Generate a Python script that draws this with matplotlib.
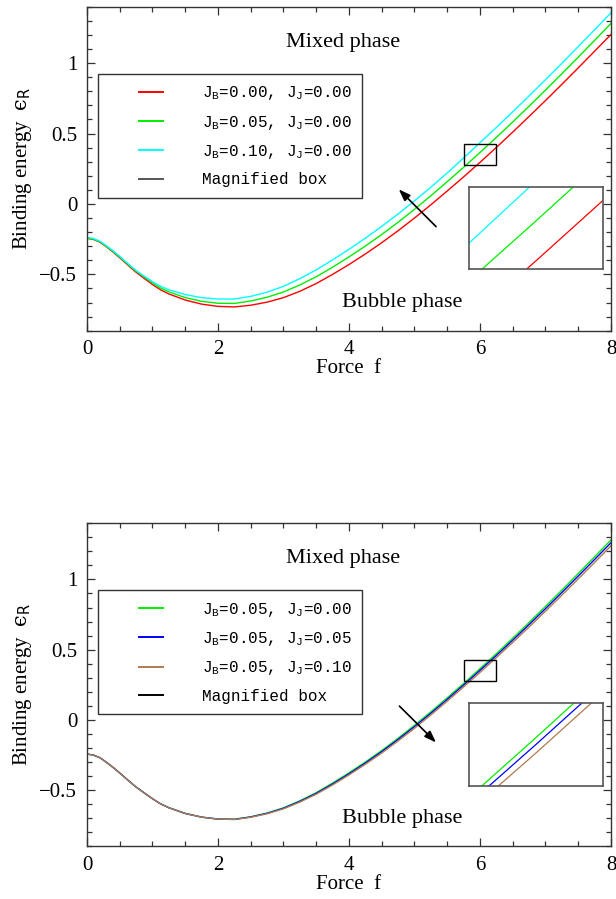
import matplotlib
matplotlib.use('Agg')
import matplotlib.pyplot as plt
from matplotlib.patches import Rectangle
from matplotlib.lines import Line2D
from matplotlib.legend_handler import HandlerLine2D
from matplotlib.ticker import MultipleLocator, FixedLocator, FixedFormatter

# ---------------- data ----------------
force = [0, 0.1, 0.2, 0.3, 0.4, 0.5, 0.625, 0.75, 0.875, 1.0, 1.125, 1.25,
         1.5, 1.75, 2.0, 2.25, 2.5, 2.75, 3.0, 3.25, 3.5, 3.75, 4.0, 4.25,
         4.5, 4.75, 5.0, 5.25, 5.5, 5.75, 6.0, 6.25, 6.5, 6.75, 7.0, 7.25,
         7.5, 7.75, 8.0]

# top panel: J_J = 0, varying J_B
eps_jb000_jj000 = [-0.244, -0.252, -0.272, -0.305, -0.342, -0.382, -0.434, -0.485,
                   -0.529, -0.572, -0.610, -0.639, -0.682, -0.711, -0.727, -0.731,
                   -0.719, -0.697, -0.665, -0.620, -0.565, -0.500, -0.430, -0.355,
                   -0.275, -0.190, -0.100, -0.006, 0.092, 0.192, 0.295, 0.401,
                   0.510, 0.621, 0.734, 0.849, 0.966, 1.084, 1.203]
eps_jb005_jj000 = [-0.242, -0.250, -0.269, -0.302, -0.338, -0.377, -0.428, -0.477,
                   -0.519, -0.560, -0.597, -0.624, -0.665, -0.691, -0.705, -0.706,
                   -0.689, -0.662, -0.625, -0.575, -0.517, -0.449, -0.376, -0.299,
                   -0.217, -0.130, -0.038, 0.058, 0.158, 0.260, 0.365, 0.472,
                   0.582, 0.694, 0.808, 0.924, 1.042, 1.161, 1.281]
eps_jb010_jj000 = [-0.237, -0.245, -0.265, -0.297, -0.333, -0.372, -0.423, -0.472,
                   -0.513, -0.552, -0.585, -0.609, -0.643, -0.665, -0.675, -0.675,
                   -0.656, -0.626, -0.585, -0.530, -0.468, -0.397, -0.322, -0.243,
                   -0.159, -0.071, 0.022, 0.119, 0.220, 0.326, 0.435, 0.543,
                   0.654, 0.767, 0.882, 0.998, 1.117, 1.236, 1.357]
# bottom panel: J_B = 0.05, varying J_J
eps_jb005_jj005 = [-0.242, -0.250, -0.269, -0.302, -0.338, -0.377, -0.428, -0.477,
                   -0.519, -0.560, -0.597, -0.624, -0.665, -0.691, -0.705, -0.707,
                   -0.690, -0.664, -0.628, -0.579, -0.522, -0.455, -0.383, -0.306,
                   -0.225, -0.138, -0.047, 0.048, 0.147, 0.249, 0.353, 0.459,
                   0.568, 0.679, 0.792, 0.907, 1.024, 1.142, 1.261]
eps_jb005_jj010 = [-0.242, -0.250, -0.269, -0.302, -0.338, -0.377, -0.428, -0.477,
                   -0.519, -0.560, -0.597, -0.624, -0.665, -0.691, -0.705, -0.708,
                   -0.692, -0.667, -0.632, -0.584, -0.528, -0.462, -0.391, -0.315,
                   -0.235, -0.149, -0.059, 0.036, 0.134, 0.235, 0.338, 0.444,
                   0.552, 0.662, 0.774, 0.888, 1.004, 1.121, 1.239]

top_labels = ['J$_\\mathregular{B}$=0.00, J$_\\mathregular{J}$=0.00',
              'J$_\\mathregular{B}$=0.05, J$_\\mathregular{J}$=0.00',
              'J$_\\mathregular{B}$=0.10, J$_\\mathregular{J}$=0.00']
bottom_labels = ['J$_\\mathregular{B}$=0.05, J$_\\mathregular{J}$=0.00',
                 'J$_\\mathregular{B}$=0.05, J$_\\mathregular{J}$=0.05',
                 'J$_\\mathregular{B}$=0.05, J$_\\mathregular{J}$=0.10']
box_label = 'Magnified box'

xticks = [0, 2, 4, 6, 8]
xticklabels = ['0', '2', '4', '6', '8']
yticks = [-0.5, 0, 0.5, 1]
yticklabels = ['\u22120.5', '0', '0.5', '1']

# magnified region
box_x = (5.75, 6.25)
box_y = (0.28, 0.425)

# ---------------- style ----------------
plt.rcParams['font.family'] = ['Liberation Serif', 'DejaVu Serif']
plt.rcParams['mathtext.fontset'] = 'custom'
plt.rcParams['mathtext.rm'] = 'DejaVu Serif'
plt.rcParams['mathtext.it'] = 'DejaVu Serif:italic'
plt.rcParams['mathtext.sf'] = 'DejaVu Sans'

fig = plt.figure(figsize=(6.16, 8.99), dpi=100)

AX_COLOR = '#333333'


def style_axes(ax):
    ax.set_xlim(0, 8)
    ax.set_ylim(-0.9, 1.4)
    ax.xaxis.set_major_locator(FixedLocator(xticks))
    ax.xaxis.set_major_formatter(FixedFormatter(xticklabels))
    ax.xaxis.set_minor_locator(MultipleLocator(0.5))
    ax.yaxis.set_major_locator(FixedLocator(yticks))
    ax.yaxis.set_major_formatter(FixedFormatter(yticklabels))
    ax.yaxis.set_minor_locator(MultipleLocator(0.1))
    ax.tick_params(which='both', direction='in', top=True, right=True,
                   color=AX_COLOR, width=0.9)
    ax.tick_params(which='major', length=5.5, labelsize=15, pad=7)
    ax.tick_params(which='minor', length=3.5)
    for s in ax.spines.values():
        s.set_color(AX_COLOR)
        s.set_linewidth(1.0)
    ax.set_xlabel('Force  f', fontsize=15, labelpad=0)
    ax.set_ylabel('Binding energy  $\\mathrm{\u03f5}_\\mathsf{R}$', fontsize=15, labelpad=4)


def panel(ax_rect, inset_rect, series, labels, colors, box_color, arrow_tail, arrow_head):
    ax = fig.add_axes(ax_rect)
    for y, c in zip(series, colors):
        ax.plot(force, y, color=c, lw=1.0)
    style_axes(ax)
    ax.add_patch(Rectangle((box_x[0], box_y[0]), box_x[1] - box_x[0], box_y[1] - box_y[0],
                           fill=False, edgecolor='black', lw=1.0, zorder=5))
    ax.annotate('', xy=arrow_head, xytext=arrow_tail,
                arrowprops=dict(arrowstyle='-|>,head_length=0.7,head_width=0.25',
                                color='black', lw=1.2, shrinkA=0, shrinkB=0))
    ax.text(3.91, 1.146, 'Mixed phase', fontsize=16, ha='center', va='center')
    ax.text(4.81, -0.703, 'Bubble phase', fontsize=16, ha='center', va='center')

    handles = [Line2D([], [], color=c, lw=1.4) for c in colors]
    handles.append(Line2D([], [], color=box_color, lw=1.4))
    leg = ax.legend(handles, labels + [box_label], loc='upper left',
                    bbox_to_anchor=(0.021, 0.793), borderaxespad=0,
                    frameon=True, fancybox=False, framealpha=1,
                    edgecolor=AX_COLOR,
                    prop={'family': 'Liberation Mono', 'size': 11.5},
                    handlelength=3.45, handletextpad=2.4, borderpad=0.65,
                    labelspacing=0.71,
                    handler_map={Line2D: HandlerLine2D(xpad=1.9)})
    leg.get_frame().set_linewidth(1.0)

    ins = fig.add_axes(inset_rect)
    for y, c in zip(series, colors):
        ins.plot(force, y, color=c, lw=0.9)
    ins.set_xlim(*box_x)
    ins.set_ylim(*box_y)
    ins.set_xticks([])
    ins.set_yticks([])
    for s in ins.spines.values():
        s.set_color('#555555')
        s.set_linewidth(1.2)
    return ax


panel([0.1412, 0.6321, 0.8506, 0.3604], [0.7614, 0.7004, 0.2175, 0.0919],
      [eps_jb000_jj000, eps_jb005_jj000, eps_jb010_jj000], top_labels,
      ['#ff0000', '#00ee00', '#00ffff'], '#555555',
      (5.33, -0.161), (4.76, 0.104))

panel([0.1412, 0.0584, 0.8506, 0.3596], [0.7614, 0.1257, 0.2175, 0.0919],
      [eps_jb005_jj000, eps_jb005_jj005, eps_jb005_jj010], bottom_labels,
      ['#00ee00', '#0000ff', '#b07a50'], '#000000',
      (4.77, 0.099), (5.33, -0.16))

fig.savefig('out.png', dpi=100)
